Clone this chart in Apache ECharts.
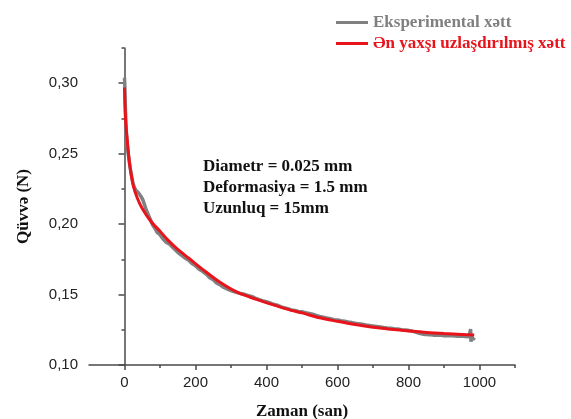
<!DOCTYPE html>
<html lang="az">
  <head>
    <meta charset="UTF-8" />
    <title>Qüvvə - Zaman</title>
    <script src="https://cdn.jsdelivr.net/npm/echarts@6/dist/echarts.min.js"></script>
    <style>
      html, body { margin: 0; padding: 0; background: #fff; }
      #chart { width: 571px; height: 419px; }
    </style>
  </head>
  <body>
    <div id="chart"></div>
    <script>
      const expTime = [0, 1, 2, 4, 6, 8, 10, 13, 16, 20, 24, 28, 32, 36, 40, 44, 48, 52, 56, 60,
        65, 70, 75, 80, 86, 92, 98, 104, 110, 118, 126, 134, 142, 150, 160, 170, 180, 190, 200,
        210, 220, 230, 240, 250, 260, 270, 280, 290, 300, 310, 320, 330, 340, 350, 360, 370,
        380, 390, 400, 410, 420, 430, 440, 450, 460, 470, 480, 490, 500, 510, 520, 530, 540,
        550, 560, 570, 580, 590, 600, 610, 620, 630, 640, 650, 660, 670, 680, 690, 700, 710,
        720, 730, 740, 750, 760, 770, 780, 790, 800, 810, 820, 830, 840, 850, 860, 870, 880,
        890, 900, 910, 920, 930, 940, 950, 960, 970, 975, 976, 978, 982, 985];
      const expForce = [0.304, 0.298, 0.285, 0.272, 0.262, 0.256, 0.251, 0.245, 0.240, 0.234,
        0.229, 0.226, 0.224, 0.223, 0.222, 0.221, 0.219, 0.217, 0.214, 0.211,
        0.208, 0.205, 0.202, 0.199, 0.197, 0.194, 0.193, 0.191, 0.189, 0.187, 0.186, 0.184,
        0.182, 0.180, 0.178, 0.176, 0.1745, 0.172, 0.1705,
        0.168, 0.1665, 0.1645, 0.162, 0.1605, 0.158, 0.1568, 0.155, 0.1538, 0.1528, 0.1520,
        0.1512, 0.1506, 0.1500, 0.1492, 0.1485, 0.1472,
        0.1463, 0.1455, 0.1449, 0.1440, 0.1431, 0.1425, 0.1414, 0.1406, 0.1400, 0.1391,
        0.1387, 0.1380, 0.1378, 0.1372, 0.1366, 0.1360, 0.1352,
        0.1345, 0.1340, 0.1333, 0.1329, 0.1322, 0.1319, 0.1314, 0.1311, 0.1305, 0.1301,
        0.1296, 0.1292, 0.1289, 0.1284, 0.1281, 0.1276, 0.1274,
        0.1270, 0.1266, 0.1263, 0.1261, 0.1257, 0.1255, 0.1251, 0.1249, 0.1246, 0.1240,
        0.1233, 0.1225, 0.1219, 0.1216, 0.1215, 0.1212, 0.1211,
        0.1213, 0.1208, 0.1207, 0.1210, 0.1205, 0.1204, 0.1206, 0.1203, 0.1200, 0.1255,
        0.1165, 0.1205, 0.1180, 0.1195];

      // best fit curve
      const fitTime = [0, 2, 4, 8, 12, 17, 25, 36, 50, 74, 100, 121, 150, 180, 226, 270, 320,
        370, 415, 470, 500, 550, 600, 650, 700, 750, 800, 850, 900, 950, 985];
      const fitForce = [0.297, 0.280, 0.270, 0.259, 0.248, 0.238, 0.227, 0.2185, 0.211, 0.202,
        0.195, 0.189, 0.182, 0.176, 0.1667, 0.1585, 0.1513, 0.1468, 0.143, 0.1388, 0.1370,
        0.1335, 0.1310, 0.1287, 0.1268, 0.1254, 0.1242, 0.1231, 0.1223, 0.1217, 0.1213];

      const xMajor = [0, 200, 400, 600, 800, 1000];
      const xMinor = [100, 300, 500, 700, 900, 1100];
      const yMajor = [0.10, 0.15, 0.20, 0.25, 0.30];
      const yMinor = [0.125, 0.175, 0.225, 0.275, 0.325];

      const legendNames = ['Eksperimental xətt', 'Ən yaxşı uzlaşdırılmış xətt'];
      const noteLines = ['Diametr = 0.025 mm', 'Deformasiya = 1.5 mm', 'Uzunluq = 15mm'];

      const serif = '"Liberation Serif", "Times New Roman", serif';
      const sans = '"Liberation Sans", Arial, sans-serif';
      const axisColor = '#4a4a4a';
      const grayLine = '#808080';
      const redLine = '#e8131b';

      const pairs = (xs, ys) => xs.map((x, i) => [x, ys[i]]);

      const chart = echarts.init(document.getElementById('chart'));

      const baseX = {
        type: 'value', min: -100, max: 1100, position: 'bottom',
        splitLine: { show: false }
      };
      const baseY = {
        type: 'value', min: 0.10, max: 0.325, position: 'left',
        splitLine: { show: false }
      };

      chart.setOption({
        animation: false,
        grid: { left: 89, right: 56, top: 48, bottom: 54, outerBoundsMode: 'none' },
        legend: {
          orient: 'vertical',
          left: 331,
          top: 8,
          icon: 'rect',
          itemWidth: 32,
          itemHeight: 3,
          itemGap: 2,
          textStyle: { fontFamily: serif, fontWeight: 'bold', fontSize: 17, lineHeight: 19 },
          data: [
            { name: legendNames[0], textStyle: { color: grayLine } },
            { name: legendNames[1], textStyle: { color: redLine } }
          ]
        },
        xAxis: [
          Object.assign({}, baseX, {
            name: 'Zaman (san)',
            nameLocation: 'middle',
            nameGap: 38,
            nameTextStyle: { fontFamily: serif, fontWeight: 'bold', fontSize: 17, color: '#111' },
            axisLine: { lineStyle: { color: axisColor, width: 1.5 } },
            axisTick: { customValues: xMajor, length: 5, lineStyle: { color: axisColor, width: 1.5 } },
            axisLabel: {
              customValues: xMajor, margin: 10,
              fontFamily: sans, fontSize: 15, color: '#222',
              formatter: v => String(v)
            }
          }),
          Object.assign({}, baseX, {
            axisLine: { show: false },
            axisTick: { customValues: xMinor, length: 3, lineStyle: { color: axisColor, width: 1.5 } },
            axisLabel: { show: false }
          })
        ],
        yAxis: [
          Object.assign({}, baseY, {
            name: 'Qüvvə (N)',
            nameLocation: 'middle',
            nameRotate: 90,
            nameGap: 57,
            nameTextStyle: { fontFamily: serif, fontWeight: 'bold', fontSize: 17, color: '#111' },
            axisLine: { show: true, lineStyle: { color: axisColor, width: 1.5 } },
            axisTick: { show: true, customValues: yMajor, length: 6, lineStyle: { color: axisColor, width: 1.5 } },
            axisLabel: {
              customValues: yMajor, margin: 11,
              fontFamily: sans, fontSize: 15, color: '#222',
              formatter: v => v.toFixed(2).replace('.', ',')
            }
          }),
          Object.assign({}, baseY, {
            axisLine: { show: false },
            axisTick: { show: true, customValues: yMinor, length: 3, lineStyle: { color: axisColor, width: 1.5 } },
            axisLabel: { show: false }
          })
        ],
        graphic: [{
          type: 'text',
          left: 203,
          top: 156,
          style: {
            text: noteLines.join('\n'),
            font: 'bold 17px ' + serif,
            lineHeight: 21,
            fill: '#111'
          }
        }],
        series: [
          {
            name: legendNames[0],
            type: 'line',
            data: pairs(expTime, expForce),
            showSymbol: false,
            smooth: false,
            lineStyle: { color: grayLine, width: 3.5 },
            itemStyle: { color: grayLine },
            z: 2
          },
          {
            name: legendNames[1],
            type: 'line',
            data: pairs(fitTime, fitForce),
            showSymbol: false,
            smooth: 0.3,
            lineStyle: { color: redLine, width: 3 },
            itemStyle: { color: redLine },
            z: 3
          }
        ]
      });
    </script>
  </body>
</html>
